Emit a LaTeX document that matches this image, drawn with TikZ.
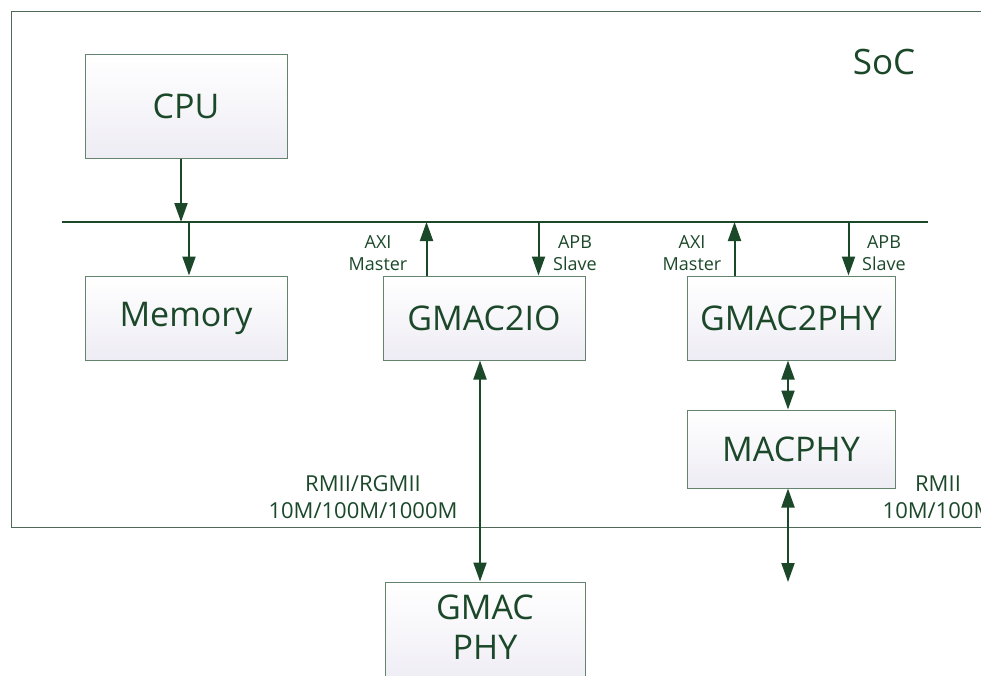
\documentclass[tikz,border=0pt]{standalone}
\usepackage{fontspec}
\setmainfont{Open Sans}
\usetikzlibrary{arrows.meta}
\definecolor{txtgreen}{RGB}{28,72,42}
\definecolor{boxline}{RGB}{100,132,110}
\definecolor{boxfill}{RGB}{238,236,244}

\begin{document}
\begin{tikzpicture}[x=1pt, y=-1pt,
  blk/.style={draw=boxline, line width=1pt, top color=white, bottom color=boxfill,
    text=txtgreen, font=\fontsize{34}{40}\selectfont, align=center, inner sep=0pt},
  lbl/.style={text=txtgreen, font=\fontsize{18}{22}\selectfont, align=center},
  arr/.style={draw=txtgreen, line width=2pt, -{Triangle[width=13pt,length=19pt]}},
  darr/.style={draw=txtgreen, line width=2pt, {Triangle[width=13pt,length=19pt]}-{Triangle[width=13pt,length=19pt]}}]

\useasboundingbox (0,0) rectangle (981,675);
\clip (0,0) rectangle (981,675);

\draw[draw=boxline!80!black, line width=1pt] (11,11) rectangle (1010,527);
\node[text=txtgreen, font=\fontsize{35}{40}\selectfont] (soc) at (884,62) {SoC};

\node[blk, minimum width=202pt, minimum height=104pt] (cpu) at (186,106) {CPU};
\node[blk, minimum width=202pt, minimum height=84pt] (mem) at (186,318) {Memory};
\node[blk, minimum width=202pt, minimum height=84pt] (gio) at (484,318) {GMAC2IO};
\node[blk, minimum width=208pt, minimum height=84pt] (gphy2) at (791,318) {GMAC2PHY};
\node[blk, minimum width=208pt, minimum height=78pt] (mac) at (791,449) {MACPHY};
\node[blk, minimum width=200pt, minimum height=104pt] (gphy) at (485,634) {};
\node[text=txtgreen, font=\fontsize{34}{40}\selectfont, align=center] (gphytxt)
  at ([yshift=7pt]gphy.center) {GMAC\\PHY};

\coordinate (busL) at (62,222);
\coordinate (busR) at (928,222);
\coordinate (out) at (788,582);
\draw[draw=txtgreen, line width=2pt] (busL) -- (busR);

\draw[arr] ([xshift=-5pt]cpu.south) -- ([xshift=-5pt]cpu.south |- busL);
\draw[arr] ([xshift=3pt]mem.north |- busL) -- ([xshift=3pt]mem.north);

\draw[arr] ([xshift=44pt]gio.north west) -- ([xshift=44pt]gio.north west |- busL);
\draw[arr] ([xshift=-47pt]gio.north east |- busL) -- ([xshift=-47pt]gio.north east);
\draw[arr] ([xshift=48pt]gphy2.north west) -- ([xshift=48pt]gphy2.north west |- busL);
\draw[arr] ([xshift=-47pt]gphy2.north east |- busL) -- ([xshift=-47pt]gphy2.north east);

\node[lbl] (axi1) at (378,253) {AXI\\Master};
\node[lbl] (apb1) at (575,253) {APB\\Slave};
\node[lbl] (axi2) at (692,253) {AXI\\Master};
\node[lbl] (apb2) at (884,253) {APB\\Slave};

\draw[darr] ([xshift=-4pt]gio.south) -- ([xshift=-4pt]gio.south |- gphy.north);
\draw[darr] ([xshift=-3pt]gphy2.south) -- ([xshift=-3pt]mac.north);
\draw[darr] ([xshift=-3pt]mac.south) -- (out);

\node[lbl, font=\fontsize{22}{27}\selectfont] (rgmii) at (363,497) {RMII/RGMII\\10M/100M/1000M};
\node[lbl, font=\fontsize{22}{27}\selectfont] (rmii) at (938,497) {RMII\\10M/100M};

\end{tikzpicture}
\end{document}
